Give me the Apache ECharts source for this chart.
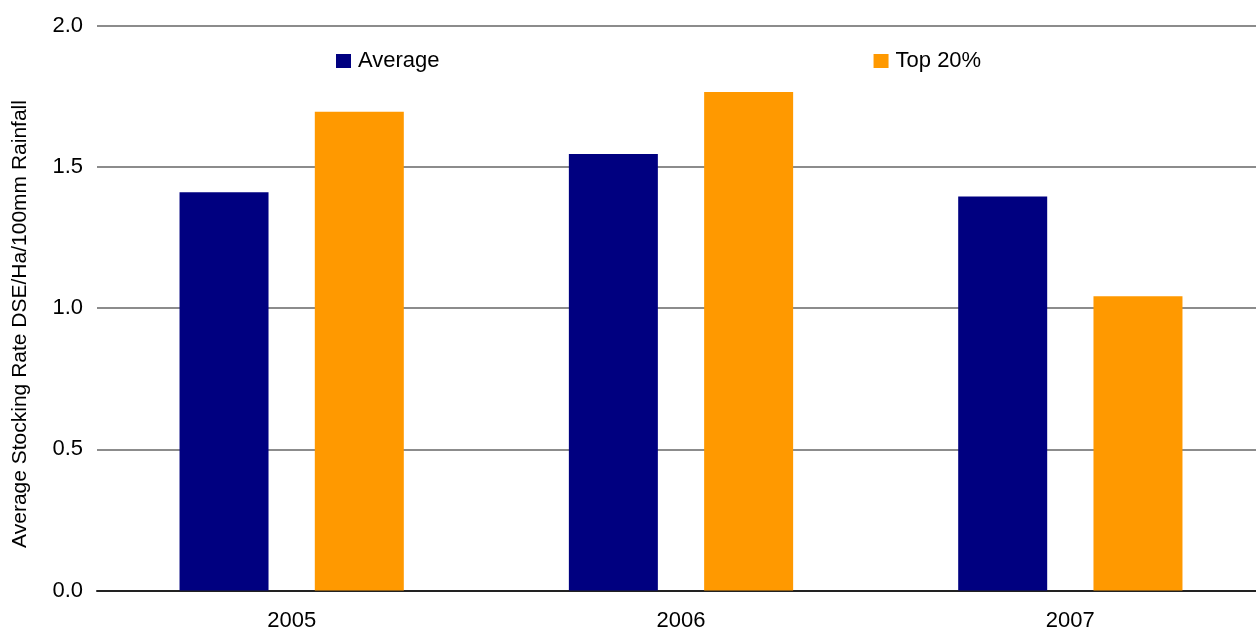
<!DOCTYPE html>
<html>
<head>
<meta charset="utf-8">
<script src="https://cdn.jsdelivr.net/npm/echarts@6/dist/echarts.min.js"></script>
<style>
  html, body { margin: 0; padding: 0; background: #fff; }
  #chart { width: 1256px; height: 630px; }
</style>
</head>
<body>
<div id="chart"></div>
<script>
// Stocking rate per 100 mm of rainfall, by year
const years = ['2005', '2006', '2007'];
const averageValues = [1.41, 1.545, 1.395];
const top20Values = [1.695, 1.765, 1.042];
const seriesNames = ['Average', 'Top 20%'];
const yAxisTitle = 'Average Stocking Rate DSE/Ha/100mm Rainfall';

const font = 'Liberation Sans, Arial, Helvetica, sans-serif';

const chart = echarts.init(document.getElementById('chart'), null, { renderer: 'canvas' });

chart.setOption({
  animation: false,
  backgroundColor: '#ffffff',
  textStyle: { fontFamily: font, color: '#000' },
  legend: {
    top: 45,
    left: 331,
    itemWidth: 15,
    itemHeight: 14,
    itemGap: 434,
    icon: 'rect',
    textStyle: { fontFamily: font, fontSize: 22, color: '#000', padding: [0, 0, 0, 2] },
    data: seriesNames
  },
  // vertical axis title, placed as free text beside the value axis
  graphic: [{
    type: 'text',
    x: 20,
    y: 324,
    rotation: Math.PI / 2,
    style: {
      text: yAxisTitle,
      font: '21px ' + font,
      fill: '#000',
      align: 'center',
      verticalAlign: 'middle'
    }
  }],
  grid: {
    left: 97,
    top: 25.5,
    width: 1168,
    bottom: 39.5,
    containLabel: false,
    outerBoundsMode: 'none'
  },
  xAxis: {
    type: 'category',
    data: years,
    axisTick: { show: false },
    axisLine: { lineStyle: { color: '#222', width: 2 } },
    axisLabel: { fontFamily: font, fontSize: 22, color: '#000', margin: 19 },
    splitLine: { show: false }
  },
  yAxis: {
    type: 'value',
    min: 0,
    max: 2,
    interval: 0.5,
    axisLine: { show: false },
    axisTick: { show: false },
    axisLabel: {
      fontFamily: font, fontSize: 22, color: '#000', margin: 14,
      formatter: v => v.toFixed(1)
    },
    splitLine: { lineStyle: { color: '#666666', width: 1.5 } }
  },
  series: [
    {
      name: seriesNames[0],
      type: 'bar',
      data: averageValues,
      barWidth: 89,
      barGap: '52%',
      itemStyle: { color: '#000080' }
    },
    {
      name: seriesNames[1],
      type: 'bar',
      data: top20Values,
      barWidth: 89,
      barGap: '52%',
      itemStyle: { color: '#ff9900' }
    }
  ]
});
</script>
</body>
</html>
